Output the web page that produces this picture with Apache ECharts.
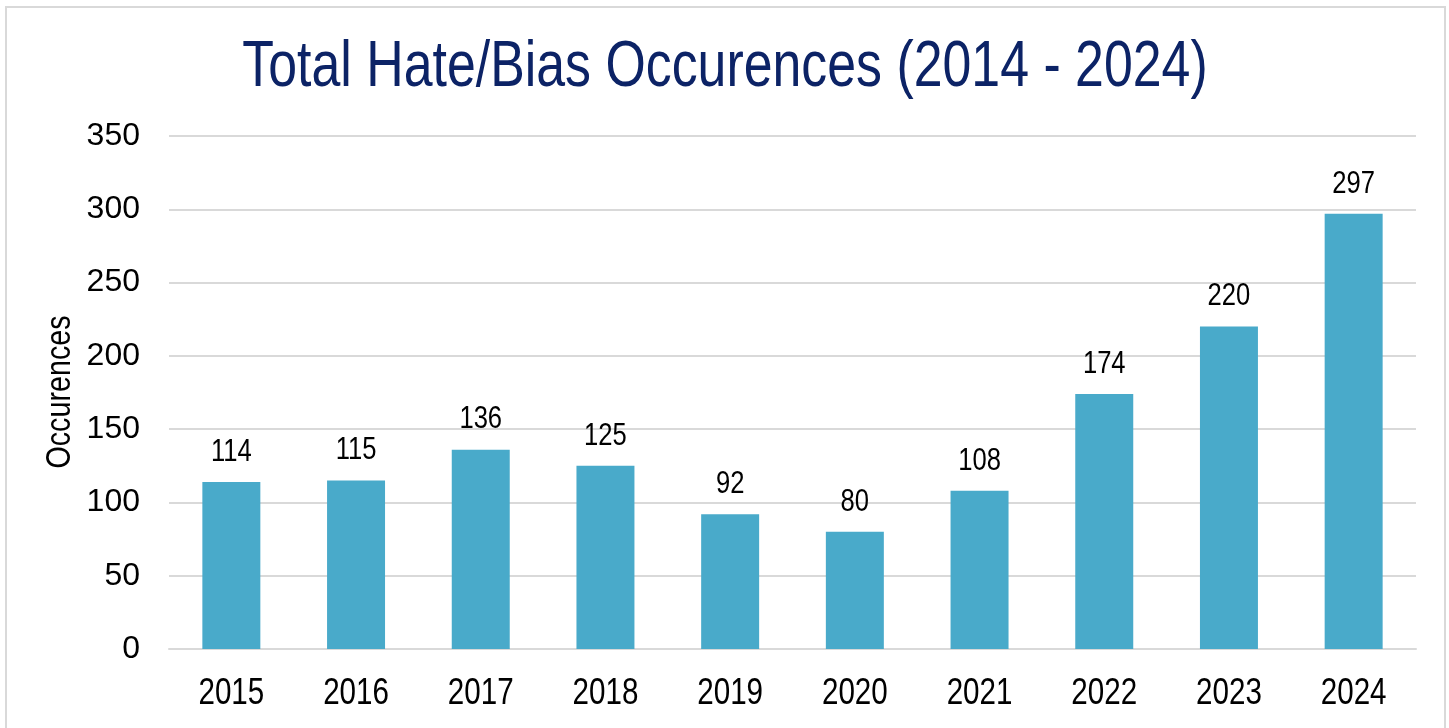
<!DOCTYPE html>
<html>
<head>
<meta charset="utf-8">
<script src="https://cdn.jsdelivr.net/npm/echarts@6/dist/echarts.min.js"></script>
<style>
html, body { margin: 0; padding: 0; background: #fff; }
#chart { width: 1449px; height: 728px; }
</style>
</head>
<body>
<div id="chart"></div>
<script>
// data
const years = ['2015', '2016', '2017', '2018', '2019', '2020', '2021', '2022', '2023', '2024'];
const occurences = [114, 115, 136, 125, 92, 80, 108, 174, 220, 297];
const yTicks = { min: 0, max: 350, interval: 50 };

// no Arial Narrow here, so squeeze Liberation Sans sideways
const font = "'Liberation Sans', Arial, sans-serif";
const squeeze = 0.8;

const chart = echarts.init(document.getElementById('chart'));

// data labels above the bars, narrow text
const renderValueLabel = (params, api) => {
   const p = api.coord([api.value(0), api.value(1)]);
   return {
      type: 'text',
      x: p[0],
      y: p[1] - 14,
      scaleX: squeeze,
      style: {
         text: String(api.value(1)),
         fontFamily: font,
         fontSize: 32,
         fill: '#000',
         align: 'center',
         verticalAlign: 'bottom'
      }
   };
};
// category labels under the axis, narrow text
const renderYearLabel = (params, api) => {
   const p = api.coord([api.value(0), 0]);
   return {
      type: 'text',
      x: p[0],
      y: p[1] + 26,
      scaleX: squeeze,
      style: {
         text: years[params.dataIndex],
         fontFamily: font,
         fontSize: 37,
         fill: '#000',
         align: 'center',
         verticalAlign: 'top'
      }
   };
};

const option = {
   backgroundColor: '#fff',
   animation: false,
   graphic: [
      {
         type: 'rect',
         shape: { x: 6, y: 7, width: 1439, height: 740 },
         style: { fill: 'none', stroke: '#d9d9d9', lineWidth: 2 },
         silent: true
      },
      {
         type: 'text',
         x: 725,
         y: 36,
         scaleX: 0.81,
         style: {
            text: 'Total Hate/Bias Occurences (2014 - 2024)',
            fontFamily: font,
            fontSize: 64,
            fill: '#0C2366',
            align: 'center',
            verticalAlign: 'top'
         }
      },
      {
         type: 'text',
         x: 60,
         y: 392,
         rotation: Math.PI / 2,
         scaleX: 0.82,
         style: {
            text: 'Occurences',
            fontFamily: font,
            fontSize: 35,
            fill: '#000',
            align: 'center',
            verticalAlign: 'middle'
         }
      }
   ],
   grid: {
      left: 169,
      right: 33,
      top: 136,
      bottom: 79
   },
   xAxis: {
      type: 'category',
      data: years,
      axisLine: { lineStyle: { color: '#d9d9d9', width: 2 } },
      axisTick: { show: false },
      axisLabel: { show: false }
   },
   yAxis: {
      type: 'value',
      min: yTicks.min,
      max: yTicks.max,
      interval: yTicks.interval,
      axisLine: { show: false },
      axisTick: { show: false },
      splitLine: { lineStyle: { color: '#d9d9d9', width: 2 } },
      axisLabel: {
         margin: 29,
         fontFamily: font,
         fontSize: 32,
         color: '#000'
      }
   },
   series: [
      {
         type: 'bar',
         data: occurences,
         barWidth: '46.5%',
         itemStyle: { color: '#49AACA' }
      },
      {
         type: 'custom',
         data: occurences.map((v, i) => [i, v]),
         renderItem: renderValueLabel,
         clip: false,
         silent: true
      },
      {
         type: 'custom',
         data: years.map((y, i) => [i, 0]),
         renderItem: renderYearLabel,
         clip: false,
         silent: true
      }
   ]
};
chart.setOption(option);
</script>
</body>
</html>
